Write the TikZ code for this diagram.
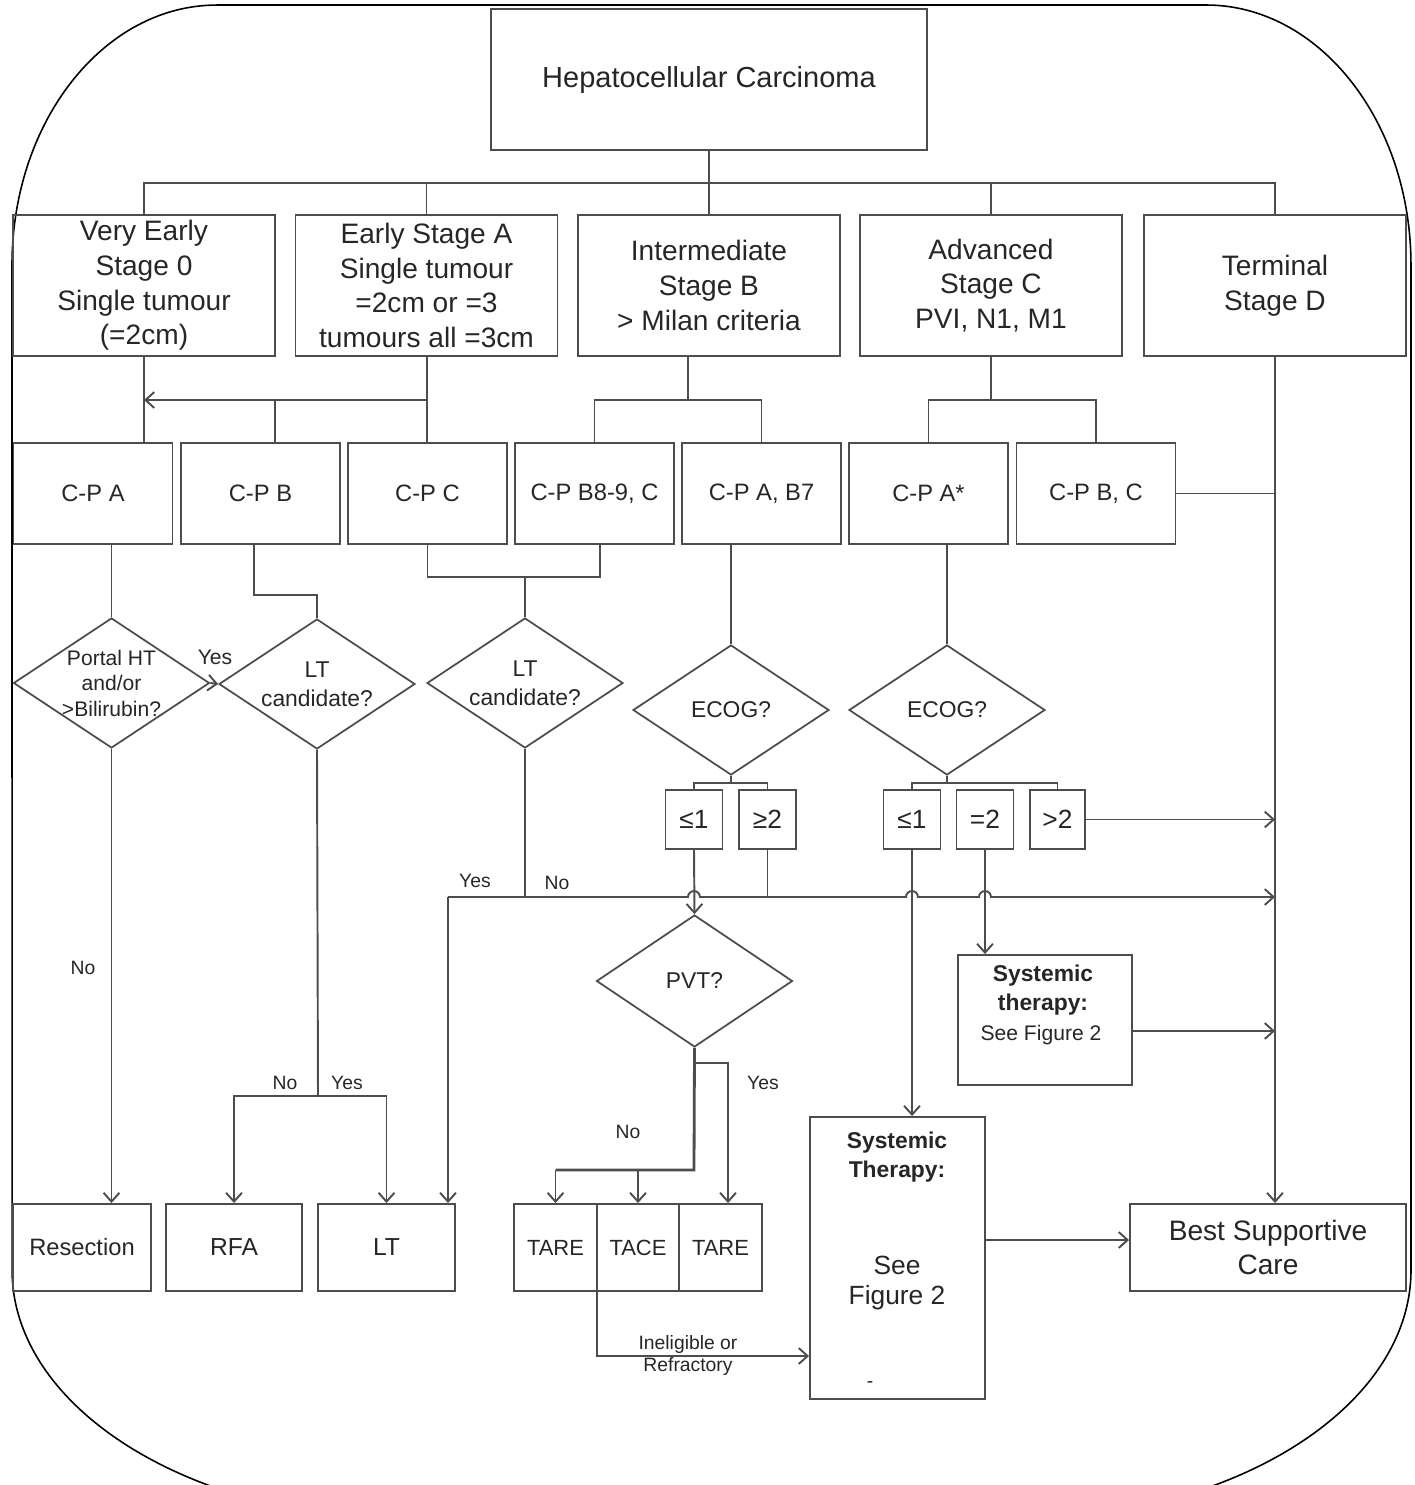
\documentclass[tikz,border=0pt]{standalone}
\usepackage{fontspec}
\setmainfont{Liberation Sans}
\usetikzlibrary{shapes.geometric,arrows.meta,calc}
\definecolor{linegray}{HTML}{4D4D4D}

\begin{document}
\begin{tikzpicture}[x=0.02cm, y=-0.02cm,
    every node/.style={text=black!85, align=center},
    box/.style={draw=linegray, line width=1.1pt, inner sep=0pt},
    stagebox/.style={box, minimum width=262*0.02cm, minimum height=141*0.02cm, font=\fontsize{16}{19.8}\selectfont},
    cpbox/.style={box, minimum width=159*0.02cm, minimum height=101*0.02cm, font=\fontsize{13.5}{16}\selectfont},
    query/.style={diamond, aspect=1.5, draw=linegray, line width=1pt, inner sep=-3pt, minimum width=196*0.02cm, minimum height=130*0.02cm, font=\fontsize{13}{16.5}\selectfont},
    scorebox/.style={box, minimum width=57*0.02cm, minimum height=59*0.02cm, font=\fontsize{15}{18}\selectfont},
    endbox/.style={box, minimum height=87*0.02cm, font=\fontsize{13.5}{16}\selectfont},
    tag/.style={font=\fontsize{11}{13.5}\selectfont, inner sep=1pt},
    link/.style={draw=linegray, line width=1.1pt},
    arr/.style={link, -{Straight Barb[length=5pt, width=9pt]}},
  ]
  \useasboundingbox (0,0) rectangle (1415,1485);
  \clip (0,0) rectangle (1415,1485);

  % outer frame
  \draw[black, line width=0.9pt] (217,5) -- (1206,5)
    arc[start angle=90, end angle=0, x radius=4.1cm, y radius=5.2cm] -- (1411,1270)
    arc[start angle=0, end angle=-90, x radius=8cm, y radius=5cm] -- (412,1520)
    arc[start angle=270, end angle=180, x radius=8cm, y radius=5cm] -- (12,265)
    arc[start angle=180, end angle=90, x radius=4.1cm, y radius=5.2cm] -- cycle;

  % boxes
  \node[box, minimum width=436*0.02cm, minimum height=141*0.02cm, font=\fontsize{16.5}{20}\selectfont] (hcc) at (709,79.5) {Hepatocellular Carcinoma};

  \node[stagebox] (s0) at (144,285.5) {Very Early\\Stage 0\\Single tumour\\(=2cm)};
  \node[stagebox] (sa) at (426.5,285.5) {Early Stage A\\Single tumour\\=2cm or =3\\tumours all =3cm};
  \node[stagebox] (sb) at (709,285.5) {Intermediate\\Stage B\\> Milan criteria};
  \node[stagebox] (sc) at (991,285.5) {Advanced\\Stage C\\PVI, N1, M1};
  \node[stagebox] (sd) at (1275,285.5) {Terminal\\Stage D};

  \node[cpbox] (cpa) at (93,493.5) {C-P A};
  \node[cpbox] (cpb) at (260.5,493.5) {C-P B};
  \node[cpbox] (cpc) at (427.5,493.5) {C-P C};
  \node[cpbox] (cpb89) at (594.5,493.5) {C-P B8-9, C};
  \node[cpbox] (cpab7) at (761.5,493.5) {C-P A, B7};
  \node[cpbox] (cpastar) at (928.5,493.5) {C-P A*};
  \node[cpbox] (cpbc) at (1096,493.5) {C-P B, C};

  \node[query, font=\fontsize{12}{14.5}\selectfont] (portal) at (111.5,683) {Portal HT\\and/or\\>Bilirubin?};
  \node[query] (ltone) at (317,684) {LT\\candidate?};
  \node[query] (lttwo) at (525,683) {LT\\candidate?};
  \node[query] (ecogone) at (731,710) {ECOG?};
  \node[query] (ecogtwo) at (947,710) {ECOG?};
  \node[query, minimum height=132*0.02cm] (pvt) at (694.5,981) {PVT?};

  \node[scorebox] (e1a) at (694,819.5) {≤1};
  \node[scorebox] (e1b) at (767.5,819.5) {≥2};
  \node[scorebox] (e2a) at (912,819.5) {≤1};
  \node[scorebox] (e2b) at (985,819.5) {=2};
  \node[scorebox, minimum width=55*0.02cm] (e2c) at (1057.5,819.5) {>2};

  \node[endbox, minimum width=138*0.02cm] (resect) at (82,1247.5) {Resection};
  \node[endbox, minimum width=136*0.02cm, font=\fontsize{14}{16}\selectfont] (rfa) at (234,1247.5) {RFA};
  \node[endbox, minimum width=137*0.02cm, font=\fontsize{14}{16}\selectfont] (lt) at (386.5,1247.5) {LT};
  \node[endbox, minimum width=83*0.02cm, font=\fontsize{12.5}{15}\selectfont] (tare1) at (555.5,1247.5) {TARE};
  \node[endbox, minimum width=82*0.02cm, font=\fontsize{12.5}{15}\selectfont] (tace) at (638,1247.5) {TACE};
  \node[endbox, minimum width=83*0.02cm, font=\fontsize{12.5}{15}\selectfont] (tare2) at (720.5,1247.5) {TARE};

  \node[box, minimum width=175*0.02cm, minimum height=282*0.02cm] (sysbig) at (897.5,1258) {};
  \node[font=\bfseries\fontsize{13}{16.4}\selectfont] (sysbighead) at (897,1157) {Systemic\\Therapy:};
  \node[font=\fontsize{15}{17}\selectfont] (sysbigref) at (897,1283) {See\\Figure 2};
  \node[tag] (sysbigdash) at (870,1385) {-};

  \node[box, minimum width=174*0.02cm, minimum height=130*0.02cm] (syssmall) at (1045,1020) {};
  \node[font=\bfseries\fontsize{13}{16.4}\selectfont] (syssmallhead) at (1043,990) {Systemic\\therapy:};
  \node[font=\fontsize{12}{14}\selectfont] (syssmallref) at (1041,1035) {See Figure 2};

  \node[box, minimum width=276*0.02cm, minimum height=87*0.02cm, font=\fontsize{16}{19.5}\selectfont] (bsc) at (1268,1247.5) {Best Supportive\\Care};

  % joints
  \coordinate (bus) at (709,183);
  \coordinate (abus) at (427,400);
  \coordinate (bjoin) at (275,400);
  \coordinate (bbus) at (688,400);
  \coordinate (cbus) at (991,400);
  \coordinate (bkink) at (254,595);
  \coordinate (cjoin) at (600,577);
  \coordinate (e1bus) at (731,783);
  \coordinate (e2bus) at (947,783);
  \coordinate (ltyes) at (448,897);
  \coordinate (ltno) at (525,897);
  \coordinate (onebus) at (318,1096);
  \coordinate (pvtyes) at (694,1063);
  \coordinate (yesdrop) at (728,1063);
  \coordinate (pvtno) at (694,1170);
  \coordinate (refr) at (597,1356);
  \coordinate (smallout) at (1132,1031);
  \coordinate (bigout) at (985,1240);

  % stages
  \draw[link] (hcc.south) -- (sb.north);
  \draw[link] (s0.north) -- (s0.north |- bus) -- (sd.north |- bus) -- (sd.north);
  \draw[link] (sa.north) -- (sa.north |- bus);
  \draw[link] (sc.north) -- (sc.north |- bus);

  % Child-Pugh
  \draw[link] (abus |- sa.south) -- (abus |- cpc.north);
  \draw[arr] (abus) -- (abus -| s0.south);
  \draw[link] (s0.south) -- (s0.south |- cpa.north);
  \draw[link] (bjoin) -- (bjoin |- cpb.north);
  \draw[link] (bbus |- sb.south) -- (bbus);
  \draw[link] (cpb89.north) -- (cpb89.north |- bbus) -- (cpab7.north |- bbus) -- (cpab7.north);
  \draw[link] (sc.south) -- (cbus);
  \draw[link] (cpastar.north) -- (cpastar.north |- cbus) -- (cpbc.north |- cbus) -- (cpbc.north);
  \draw[link] (cpbc.east) -- (cpbc.east -| sd.south);
  \draw[arr] (sd.south) -- (sd.south |- bsc.north);

  % questions
  \draw[link] (portal.north) -- (portal.north |- cpa.south);
  \draw[link] (bkink |- cpb.south) -- (bkink) -- (bkink -| ltone.north) -- (ltone.north);
  \draw[arr] (portal.east) -- (ltone.west);
  \node[tag, font=\fontsize{12}{14}\selectfont] (portalyes) at (215,657) {Yes};
  \draw[link] (cpc.south) -- (cpc.south |- cjoin) -- (cjoin) -- (cjoin |- cpb89.south);
  \draw[link] (lttwo.north) -- (lttwo.north |- cjoin);
  \draw[link] (ecogone.north) -- (ecogone.north |- cpab7.south);
  \draw[link] (ecogtwo.north) -- (ecogtwo.north |- cpastar.south);

  % ECOG
  \draw[link] (ecogone.south) -- (e1bus);
  \draw[link] (e1a.north) -- (e1a.north |- e1bus) -- (e1b.north |- e1bus) -- (e1b.north);
  \draw[link] (ecogtwo.south) -- (e2bus);
  \draw[link] (e2a.north) -- (e2a.north |- e2bus) -- (e2c.north |- e2bus) -- (e2c.north);
  \draw[arr] (e2c.east) -- (e2c.east -| sd.south);

  % line with hops
  \draw[link] (lttwo.south) -- (ltno);
  \draw[arr] (ltyes) -- (ltyes |- lt.north);
  \draw[arr] (ltyes) -- ($(e1a.south |- ltno)+(-6,0)$) arc[start angle=180, end angle=0, radius=3.4pt]
    -- ($(e2a.south |- ltno)+(-6,0)$) arc[start angle=180, end angle=0, radius=3.4pt]
    -- ($(e2b.south |- ltno)+(-6,0)$) arc[start angle=180, end angle=0, radius=3.4pt]
    -- (ltno -| sd.south);
  \draw[link] (e1b.south) -- (e1b.south |- ltno);
  \node[tag] (lttwoyes) at (475,881) {Yes};
  \node[tag] (lttwono) at (557,883) {No};
  \draw[arr] (e1a.south) -- (pvt.north);
  \draw[arr] (e2a.south) -- (e2a.south |- sysbig.north);
  \draw[arr] (e2b.south) -- (e2b.south |- syssmall.north);

  % PVT
  \draw[link, line width=1.6pt] (pvt.south) -- (pvtno) -- (pvtno -| tare1.north);
  \draw[arr] (pvtno -| tare1.north) -- (tare1.north);
  \draw[arr] (pvtno -| tace.north) -- (tace.north);
  \draw[arr] (pvtyes) -- (yesdrop) -- (yesdrop |- tare2.north);
  \node[tag] (pvtyeslabel) at (763,1083) {Yes};
  \node[tag] (pvtnolabel) at (628,1132) {No};

  % treatments
  \draw[arr] (portal.south) -- (portal.south |- resect.north);
  \node[tag] (portalno) at (83,968) {No};
  \draw[link] (ltone.south) -- (onebus);
  \draw[arr] (onebus) -- (onebus -| rfa.north) -- (rfa.north);
  \draw[arr] (onebus) -- (onebus -| lt.north) -- (lt.north);
  \node[tag] (ltoneno) at (285,1083) {No};
  \node[tag] (ltoneyes) at (347,1083) {Yes};
  \draw[arr] (refr |- tare1.south) -- (refr) -- (refr -| sysbig.west);
  \node[tag, font=\fontsize{11}{13}\selectfont] (refrlabel) at (688,1355.5) {Ineligible or\\Refractory};
  \draw[arr] (smallout) -- (smallout -| sd.south);
  \draw[arr] (bigout) -- (bigout -| bsc.west);
\end{tikzpicture}
\end{document}
